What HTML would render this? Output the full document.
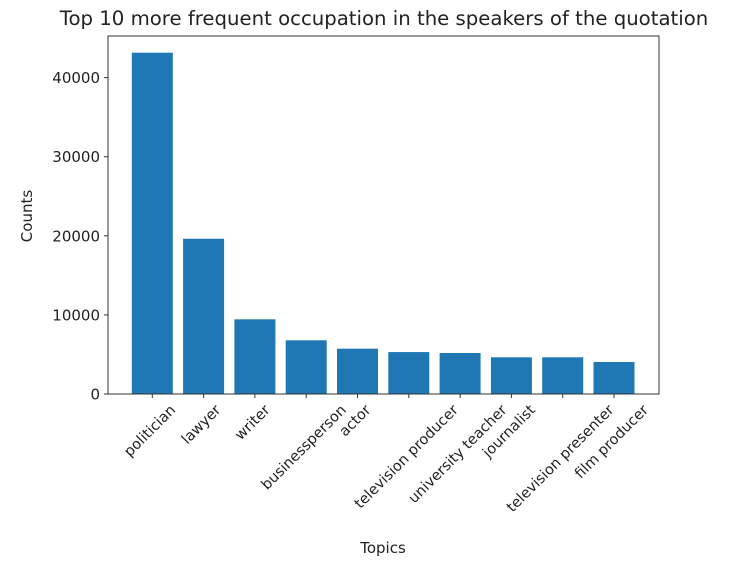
<!DOCTYPE html>
<html><head><meta charset="utf-8"><style>
body{margin:0;background:#fff;}
svg text{font-family:"DejaVu Sans","Liberation Sans",sans-serif;fill:#222;}
</style></head><body>
<svg id="chart" width="748" height="566" xmlns="http://www.w3.org/2000/svg">
<text x="384" y="25" font-size="19.7" text-anchor="middle">Top 10 more frequent occupation in the speakers of the quotation</text>
<g id="plot"></g>
<text x="383" y="553" font-size="15" text-anchor="middle">Topics</text>
<text transform="translate(32,216) rotate(-90)" font-size="15" text-anchor="middle">Counts</text>
</svg>
<script>
const categories=["politician","lawyer","writer","businessperson","actor","television producer","university teacher","journalist","television presenter","film producer"];
const counts=[43150,19630,9440,6790,5730,5300,5180,4640,4640,4050];
const yTicks=[0,10000,20000,30000,40000];
const L=108,R=659,T=36,B=394;
const x0=152.3,step=51.3,bw=41;
const pxPer=79.1/10000;
const xs=i=>x0+i*step;
const ys=v=>B-v*pxPer;
const g=document.getElementById('plot');
const NS='http://www.w3.org/2000/svg';
function mk(t,a){const e=document.createElementNS(NS,t);for(const k in a)e.setAttribute(k,a[k]);g.appendChild(e);return e;}
counts.forEach((v,i)=>{
const r=mk('rect',{x:xs(i)-bw/2,y:ys(v),width:bw,height:B-ys(v),fill:'#1f77b4'});


});
const f=mk('rect',{x:L,y:T,width:R-L,height:B-T,fill:'none',stroke:'#333','stroke-width':1});


yTicks.forEach(v=>{
const y=ys(v);
mk('line',{x1:L-4,x2:L,y1:y,y2:y,stroke:'#333'});
const t=mk('text',{x:L-8,y:y+5.5,'font-size':'15','text-anchor':'end'});
t.textContent=v;


});
const fs=14.5,s=Math.SQRT1_2;
categories.forEach((c,i)=>{
const x=xs(i);
mk('line',{x1:x,x2:x,y1:B,y2:B+4,stroke:'#333'});
const t=mk('text',{x:0,y:0,'font-size':fs,'text-anchor':'middle','dominant-baseline':'central'});
t.textContent=c;


const w=t.getComputedTextLength();
const h=(w+fs*1.15)*s;
t.setAttribute('transform',`translate(${x-2},${B+8+h/2}) rotate(-45)`);
});
</script>
</body></html>
